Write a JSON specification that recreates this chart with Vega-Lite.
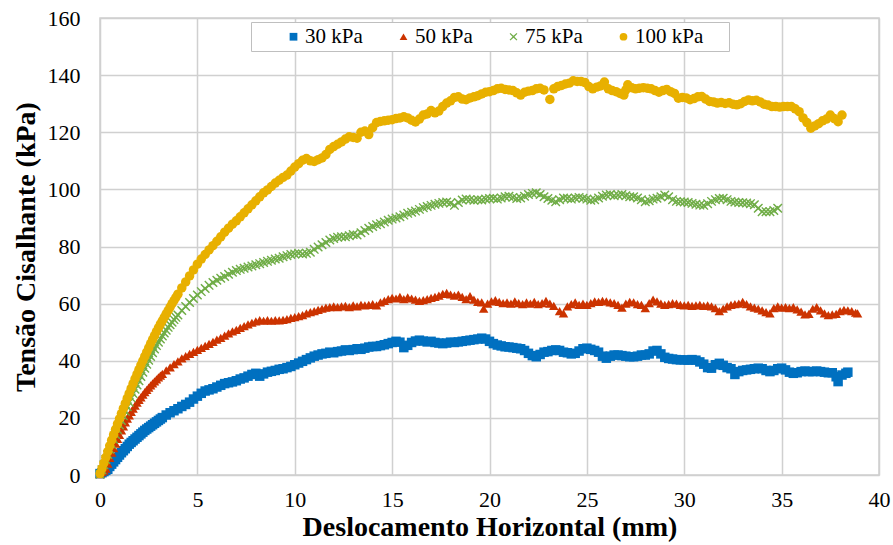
{
"$schema": "https://vega.github.io/schema/vega-lite/v6.json",
"width": 779, "height": 457,
"autosize": {"type": "none"},
"padding": {"left": 100, "top": 18, "right": 14, "bottom": 70},
"background": "white",
"config": {"font": "Liberation Serif, Times New Roman, DejaVu Serif, serif", "view": {"stroke": "#D0D0D0", "strokeWidth": 1.5}},
"data": {"values": [
{"s":"30 kPa","x":0,"y":0.5},{"s":"30 kPa","x":0.1,"y":0.8},{"s":"30 kPa","x":0.2,"y":1.2},{"s":"30 kPa","x":0.3,"y":1.6},{"s":"30 kPa","x":0.4,"y":2.0},{"s":"30 kPa","x":0.5,"y":3.0},{"s":"30 kPa","x":0.6,"y":3.8},{"s":"30 kPa","x":0.7,"y":4.6},{"s":"30 kPa","x":0.8,"y":5.4},{"s":"30 kPa","x":0.9,"y":6.2},{"s":"30 kPa","x":1.0,"y":7.0},{"s":"30 kPa","x":1.1,"y":7.8},{"s":"30 kPa","x":1.2,"y":8.5},{"s":"30 kPa","x":1.3,"y":9.2},{"s":"30 kPa","x":1.4,"y":10.0},{"s":"30 kPa","x":1.5,"y":10.8},{"s":"30 kPa","x":1.6,"y":11.4},{"s":"30 kPa","x":1.7,"y":12.0},{"s":"30 kPa","x":1.8,"y":12.6},{"s":"30 kPa","x":1.9,"y":13.2},{"s":"30 kPa","x":2.0,"y":13.8},{"s":"30 kPa","x":2.1,"y":14.4},{"s":"30 kPa","x":2.2,"y":15.0},{"s":"30 kPa","x":2.3,"y":15.6},{"s":"30 kPa","x":2.4,"y":16.1},{"s":"30 kPa","x":2.5,"y":16.6},{"s":"30 kPa","x":2.6,"y":17.1},{"s":"30 kPa","x":2.7,"y":17.6},{"s":"30 kPa","x":2.8,"y":18.1},{"s":"30 kPa","x":2.9,"y":18.6},{"s":"30 kPa","x":3.0,"y":19.1},{"s":"30 kPa","x":3.1,"y":19.6},{"s":"30 kPa","x":3.2,"y":20.1},{"s":"30 kPa","x":3.4,"y":21.0},{"s":"30 kPa","x":3.6,"y":21.8},{"s":"30 kPa","x":3.8,"y":22.5},{"s":"30 kPa","x":4.0,"y":23.2},{"s":"30 kPa","x":4.2,"y":24.0},{"s":"30 kPa","x":4.4,"y":24.7},{"s":"30 kPa","x":4.6,"y":25.5},{"s":"30 kPa","x":4.8,"y":26.6},{"s":"30 kPa","x":5.0,"y":27.6},{"s":"30 kPa","x":5.2,"y":28.6},{"s":"30 kPa","x":5.4,"y":29.4},{"s":"30 kPa","x":5.6,"y":29.8},{"s":"30 kPa","x":5.8,"y":30.2},{"s":"30 kPa","x":6.0,"y":30.8},{"s":"30 kPa","x":6.2,"y":31.4},{"s":"30 kPa","x":6.4,"y":32.0},{"s":"30 kPa","x":6.6,"y":32.3},{"s":"30 kPa","x":6.8,"y":32.6},{"s":"30 kPa","x":7.0,"y":33.0},{"s":"30 kPa","x":7.2,"y":33.6},{"s":"30 kPa","x":7.4,"y":34.0},{"s":"30 kPa","x":7.6,"y":34.6},{"s":"30 kPa","x":7.8,"y":35.2},{"s":"30 kPa","x":8.0,"y":35.6},{"s":"30 kPa","x":8.2,"y":34.6},{"s":"30 kPa","x":8.4,"y":35.4},{"s":"30 kPa","x":8.6,"y":36.0},{"s":"30 kPa","x":8.8,"y":36.3},{"s":"30 kPa","x":9.0,"y":36.6},{"s":"30 kPa","x":9.2,"y":37.0},{"s":"30 kPa","x":9.4,"y":37.2},{"s":"30 kPa","x":9.6,"y":37.6},{"s":"30 kPa","x":9.8,"y":38.0},{"s":"30 kPa","x":10.0,"y":38.6},{"s":"30 kPa","x":10.2,"y":39.2},{"s":"30 kPa","x":10.4,"y":39.8},{"s":"30 kPa","x":10.6,"y":40.4},{"s":"30 kPa","x":10.8,"y":41.0},{"s":"30 kPa","x":11.0,"y":41.6},{"s":"30 kPa","x":11.2,"y":42.0},{"s":"30 kPa","x":11.4,"y":42.4},{"s":"30 kPa","x":11.6,"y":42.6},{"s":"30 kPa","x":11.8,"y":43.0},{"s":"30 kPa","x":12.0,"y":42.8},{"s":"30 kPa","x":12.2,"y":43.2},{"s":"30 kPa","x":12.4,"y":43.4},{"s":"30 kPa","x":12.6,"y":43.8},{"s":"30 kPa","x":12.8,"y":43.6},{"s":"30 kPa","x":13.0,"y":43.9},{"s":"30 kPa","x":13.2,"y":44.2},{"s":"30 kPa","x":13.4,"y":44.0},{"s":"30 kPa","x":13.6,"y":44.4},{"s":"30 kPa","x":13.8,"y":44.8},{"s":"30 kPa","x":14.0,"y":45.0},{"s":"30 kPa","x":14.2,"y":45.0},{"s":"30 kPa","x":14.4,"y":45.3},{"s":"30 kPa","x":14.6,"y":45.6},{"s":"30 kPa","x":14.8,"y":46.0},{"s":"30 kPa","x":15.0,"y":46.4},{"s":"30 kPa","x":15.2,"y":46.8},{"s":"30 kPa","x":15.4,"y":46.5},{"s":"30 kPa","x":15.6,"y":44.6},{"s":"30 kPa","x":15.8,"y":45.4},{"s":"30 kPa","x":16.0,"y":46.4},{"s":"30 kPa","x":16.2,"y":46.9},{"s":"30 kPa","x":16.4,"y":47.2},{"s":"30 kPa","x":16.6,"y":46.9},{"s":"30 kPa","x":16.8,"y":46.6},{"s":"30 kPa","x":17.0,"y":46.8},{"s":"30 kPa","x":17.2,"y":46.4},{"s":"30 kPa","x":17.4,"y":46.2},{"s":"30 kPa","x":17.6,"y":46.0},{"s":"30 kPa","x":17.8,"y":46.2},{"s":"30 kPa","x":18.0,"y":46.5},{"s":"30 kPa","x":18.2,"y":46.4},{"s":"30 kPa","x":18.4,"y":46.6},{"s":"30 kPa","x":18.6,"y":46.8},{"s":"30 kPa","x":18.8,"y":47.0},{"s":"30 kPa","x":19.0,"y":47.2},{"s":"30 kPa","x":19.2,"y":47.4},{"s":"30 kPa","x":19.4,"y":47.6},{"s":"30 kPa","x":19.6,"y":47.9},{"s":"30 kPa","x":19.8,"y":47.6},{"s":"30 kPa","x":20.0,"y":46.8},{"s":"30 kPa","x":20.2,"y":46.0},{"s":"30 kPa","x":20.4,"y":45.5},{"s":"30 kPa","x":20.6,"y":45.2},{"s":"30 kPa","x":20.8,"y":44.9},{"s":"30 kPa","x":21.0,"y":44.8},{"s":"30 kPa","x":21.2,"y":44.6},{"s":"30 kPa","x":21.4,"y":44.4},{"s":"30 kPa","x":21.6,"y":44.2},{"s":"30 kPa","x":21.8,"y":43.6},{"s":"30 kPa","x":22.0,"y":42.6},{"s":"30 kPa","x":22.2,"y":41.8},{"s":"30 kPa","x":22.4,"y":41.4},{"s":"30 kPa","x":22.6,"y":42.2},{"s":"30 kPa","x":22.8,"y":43.0},{"s":"30 kPa","x":23.0,"y":43.2},{"s":"30 kPa","x":23.2,"y":43.6},{"s":"30 kPa","x":23.4,"y":43.8},{"s":"30 kPa","x":23.6,"y":43.6},{"s":"30 kPa","x":23.8,"y":43.0},{"s":"30 kPa","x":24.0,"y":42.8},{"s":"30 kPa","x":24.2,"y":42.4},{"s":"30 kPa","x":24.4,"y":42.6},{"s":"30 kPa","x":24.6,"y":43.4},{"s":"30 kPa","x":24.8,"y":44.2},{"s":"30 kPa","x":25.0,"y":44.4},{"s":"30 kPa","x":25.2,"y":44.0},{"s":"30 kPa","x":25.4,"y":43.6},{"s":"30 kPa","x":25.6,"y":43.0},{"s":"30 kPa","x":25.8,"y":41.6},{"s":"30 kPa","x":26.0,"y":40.9},{"s":"30 kPa","x":26.2,"y":41.6},{"s":"30 kPa","x":26.4,"y":42.0},{"s":"30 kPa","x":26.6,"y":42.0},{"s":"30 kPa","x":26.8,"y":41.8},{"s":"30 kPa","x":27.0,"y":41.6},{"s":"30 kPa","x":27.2,"y":41.4},{"s":"30 kPa","x":27.4,"y":41.4},{"s":"30 kPa","x":27.6,"y":41.6},{"s":"30 kPa","x":27.8,"y":42.0},{"s":"30 kPa","x":28.0,"y":42.0},{"s":"30 kPa","x":28.2,"y":42.4},{"s":"30 kPa","x":28.4,"y":43.4},{"s":"30 kPa","x":28.6,"y":43.6},{"s":"30 kPa","x":28.8,"y":42.4},{"s":"30 kPa","x":29.0,"y":41.2},{"s":"30 kPa","x":29.2,"y":40.8},{"s":"30 kPa","x":29.4,"y":40.6},{"s":"30 kPa","x":29.6,"y":40.4},{"s":"30 kPa","x":29.8,"y":40.3},{"s":"30 kPa","x":30.0,"y":40.3},{"s":"30 kPa","x":30.2,"y":40.2},{"s":"30 kPa","x":30.4,"y":40.4},{"s":"30 kPa","x":30.6,"y":40.2},{"s":"30 kPa","x":30.8,"y":39.6},{"s":"30 kPa","x":31.0,"y":38.8},{"s":"30 kPa","x":31.2,"y":37.6},{"s":"30 kPa","x":31.4,"y":37.4},{"s":"30 kPa","x":31.6,"y":38.6},{"s":"30 kPa","x":31.8,"y":39.1},{"s":"30 kPa","x":32.0,"y":38.4},{"s":"30 kPa","x":32.2,"y":37.6},{"s":"30 kPa","x":32.4,"y":37.2},{"s":"30 kPa","x":32.6,"y":35.2},{"s":"30 kPa","x":32.8,"y":36.2},{"s":"30 kPa","x":33.0,"y":36.6},{"s":"30 kPa","x":33.2,"y":36.8},{"s":"30 kPa","x":33.4,"y":37.0},{"s":"30 kPa","x":33.6,"y":37.2},{"s":"30 kPa","x":33.8,"y":37.4},{"s":"30 kPa","x":34.0,"y":37.2},{"s":"30 kPa","x":34.2,"y":36.6},{"s":"30 kPa","x":34.4,"y":36.2},{"s":"30 kPa","x":34.6,"y":36.6},{"s":"30 kPa","x":34.8,"y":37.2},{"s":"30 kPa","x":35.0,"y":37.4},{"s":"30 kPa","x":35.2,"y":36.8},{"s":"30 kPa","x":35.4,"y":36.0},{"s":"30 kPa","x":35.6,"y":35.6},{"s":"30 kPa","x":35.8,"y":35.8},{"s":"30 kPa","x":36.0,"y":36.2},{"s":"30 kPa","x":36.2,"y":36.4},{"s":"30 kPa","x":36.4,"y":36.2},{"s":"30 kPa","x":36.6,"y":36.2},{"s":"30 kPa","x":36.8,"y":36.4},{"s":"30 kPa","x":37.0,"y":36.2},{"s":"30 kPa","x":37.2,"y":36.0},{"s":"30 kPa","x":37.4,"y":35.8},{"s":"30 kPa","x":37.6,"y":35.8},{"s":"30 kPa","x":37.8,"y":34.4},{"s":"30 kPa","x":37.9,"y":32.7},{"s":"30 kPa","x":38.1,"y":35.0},{"s":"30 kPa","x":38.3,"y":35.6},{"s":"30 kPa","x":38.4,"y":36.0},
{"s":"50 kPa","x":0,"y":0.3},{"s":"50 kPa","x":0.1,"y":1.0},{"s":"50 kPa","x":0.2,"y":1.5},{"s":"50 kPa","x":0.3,"y":2.2},{"s":"50 kPa","x":0.4,"y":4.0},{"s":"50 kPa","x":0.5,"y":6.0},{"s":"50 kPa","x":0.6,"y":7.8},{"s":"50 kPa","x":0.7,"y":9.4},{"s":"50 kPa","x":0.8,"y":11.0},{"s":"50 kPa","x":0.9,"y":12.6},{"s":"50 kPa","x":1.0,"y":14.0},{"s":"50 kPa","x":1.1,"y":15.6},{"s":"50 kPa","x":1.2,"y":17.0},{"s":"50 kPa","x":1.3,"y":18.4},{"s":"50 kPa","x":1.4,"y":19.7},{"s":"50 kPa","x":1.5,"y":20.9},{"s":"50 kPa","x":1.6,"y":22.1},{"s":"50 kPa","x":1.7,"y":23.2},{"s":"50 kPa","x":1.8,"y":24.3},{"s":"50 kPa","x":1.9,"y":25.3},{"s":"50 kPa","x":2.0,"y":26.3},{"s":"50 kPa","x":2.1,"y":27.2},{"s":"50 kPa","x":2.2,"y":28.1},{"s":"50 kPa","x":2.3,"y":29.0},{"s":"50 kPa","x":2.4,"y":29.8},{"s":"50 kPa","x":2.5,"y":30.6},{"s":"50 kPa","x":2.6,"y":31.4},{"s":"50 kPa","x":2.7,"y":32.1},{"s":"50 kPa","x":2.8,"y":32.8},{"s":"50 kPa","x":2.9,"y":33.5},{"s":"50 kPa","x":3.0,"y":34.2},{"s":"50 kPa","x":3.1,"y":34.8},{"s":"50 kPa","x":3.2,"y":35.4},{"s":"50 kPa","x":3.4,"y":36.6},{"s":"50 kPa","x":3.6,"y":37.7},{"s":"50 kPa","x":3.8,"y":38.8},{"s":"50 kPa","x":4.0,"y":39.8},{"s":"50 kPa","x":4.2,"y":40.8},{"s":"50 kPa","x":4.4,"y":41.6},{"s":"50 kPa","x":4.6,"y":42.4},{"s":"50 kPa","x":4.8,"y":43.1},{"s":"50 kPa","x":5.0,"y":43.8},{"s":"50 kPa","x":5.2,"y":44.5},{"s":"50 kPa","x":5.4,"y":45.2},{"s":"50 kPa","x":5.6,"y":45.9},{"s":"50 kPa","x":5.8,"y":46.6},{"s":"50 kPa","x":6.0,"y":47.4},{"s":"50 kPa","x":6.2,"y":48.0},{"s":"50 kPa","x":6.4,"y":48.8},{"s":"50 kPa","x":6.6,"y":49.6},{"s":"50 kPa","x":6.8,"y":50.3},{"s":"50 kPa","x":7.0,"y":50.8},{"s":"50 kPa","x":7.2,"y":51.5},{"s":"50 kPa","x":7.4,"y":52.1},{"s":"50 kPa","x":7.6,"y":52.7},{"s":"50 kPa","x":7.8,"y":53.3},{"s":"50 kPa","x":8.0,"y":53.8},{"s":"50 kPa","x":8.2,"y":54.2},{"s":"50 kPa","x":8.4,"y":54.0},{"s":"50 kPa","x":8.6,"y":54.2},{"s":"50 kPa","x":8.8,"y":54.0},{"s":"50 kPa","x":9.0,"y":54.2},{"s":"50 kPa","x":9.2,"y":54.1},{"s":"50 kPa","x":9.4,"y":54.3},{"s":"50 kPa","x":9.6,"y":54.6},{"s":"50 kPa","x":9.8,"y":55.0},{"s":"50 kPa","x":10.0,"y":55.3},{"s":"50 kPa","x":10.2,"y":55.6},{"s":"50 kPa","x":10.4,"y":56.0},{"s":"50 kPa","x":10.6,"y":56.6},{"s":"50 kPa","x":10.8,"y":57.0},{"s":"50 kPa","x":11.0,"y":57.4},{"s":"50 kPa","x":11.2,"y":57.8},{"s":"50 kPa","x":11.4,"y":58.2},{"s":"50 kPa","x":11.6,"y":58.6},{"s":"50 kPa","x":11.8,"y":58.8},{"s":"50 kPa","x":12.0,"y":59.0},{"s":"50 kPa","x":12.2,"y":58.8},{"s":"50 kPa","x":12.4,"y":59.0},{"s":"50 kPa","x":12.6,"y":59.2},{"s":"50 kPa","x":12.8,"y":58.8},{"s":"50 kPa","x":13.0,"y":59.4},{"s":"50 kPa","x":13.2,"y":59.0},{"s":"50 kPa","x":13.4,"y":59.6},{"s":"50 kPa","x":13.6,"y":59.4},{"s":"50 kPa","x":13.8,"y":59.6},{"s":"50 kPa","x":14.0,"y":59.8},{"s":"50 kPa","x":14.2,"y":59.4},{"s":"50 kPa","x":14.4,"y":60.4},{"s":"50 kPa","x":14.6,"y":61.0},{"s":"50 kPa","x":14.8,"y":61.6},{"s":"50 kPa","x":15.0,"y":62.0},{"s":"50 kPa","x":15.2,"y":61.8},{"s":"50 kPa","x":15.4,"y":62.4},{"s":"50 kPa","x":15.6,"y":61.6},{"s":"50 kPa","x":15.8,"y":62.2},{"s":"50 kPa","x":16.0,"y":61.8},{"s":"50 kPa","x":16.2,"y":61.4},{"s":"50 kPa","x":16.4,"y":61.0},{"s":"50 kPa","x":16.6,"y":61.2},{"s":"50 kPa","x":16.8,"y":61.6},{"s":"50 kPa","x":17.0,"y":62.0},{"s":"50 kPa","x":17.2,"y":62.4},{"s":"50 kPa","x":17.4,"y":62.8},{"s":"50 kPa","x":17.6,"y":63.4},{"s":"50 kPa","x":17.8,"y":63.8},{"s":"50 kPa","x":18.0,"y":63.2},{"s":"50 kPa","x":18.2,"y":62.8},{"s":"50 kPa","x":18.4,"y":63.2},{"s":"50 kPa","x":18.6,"y":62.4},{"s":"50 kPa","x":18.8,"y":61.6},{"s":"50 kPa","x":19.0,"y":62.6},{"s":"50 kPa","x":19.2,"y":61.4},{"s":"50 kPa","x":19.4,"y":60.6},{"s":"50 kPa","x":19.6,"y":60.4},{"s":"50 kPa","x":19.7,"y":58.2},{"s":"50 kPa","x":19.9,"y":60.0},{"s":"50 kPa","x":20.1,"y":60.8},{"s":"50 kPa","x":20.3,"y":61.2},{"s":"50 kPa","x":20.5,"y":60.6},{"s":"50 kPa","x":20.7,"y":60.2},{"s":"50 kPa","x":20.9,"y":60.4},{"s":"50 kPa","x":21.1,"y":60.0},{"s":"50 kPa","x":21.3,"y":60.8},{"s":"50 kPa","x":21.5,"y":60.2},{"s":"50 kPa","x":21.7,"y":59.8},{"s":"50 kPa","x":21.9,"y":60.4},{"s":"50 kPa","x":22.1,"y":60.0},{"s":"50 kPa","x":22.3,"y":60.6},{"s":"50 kPa","x":22.5,"y":59.8},{"s":"50 kPa","x":22.7,"y":60.2},{"s":"50 kPa","x":22.9,"y":61.0},{"s":"50 kPa","x":23.1,"y":60.0},{"s":"50 kPa","x":23.3,"y":59.2},{"s":"50 kPa","x":23.6,"y":57.4},{"s":"50 kPa","x":23.8,"y":56.6},{"s":"50 kPa","x":24.0,"y":59.0},{"s":"50 kPa","x":24.2,"y":59.8},{"s":"50 kPa","x":24.4,"y":60.4},{"s":"50 kPa","x":24.6,"y":59.6},{"s":"50 kPa","x":24.8,"y":60.0},{"s":"50 kPa","x":25.0,"y":59.6},{"s":"50 kPa","x":25.2,"y":60.2},{"s":"50 kPa","x":25.4,"y":60.8},{"s":"50 kPa","x":25.6,"y":60.6},{"s":"50 kPa","x":25.8,"y":61.0},{"s":"50 kPa","x":26.0,"y":60.8},{"s":"50 kPa","x":26.2,"y":60.4},{"s":"50 kPa","x":26.4,"y":60.2},{"s":"50 kPa","x":26.6,"y":59.6},{"s":"50 kPa","x":26.8,"y":58.6},{"s":"50 kPa","x":27.0,"y":60.0},{"s":"50 kPa","x":27.2,"y":60.6},{"s":"50 kPa","x":27.4,"y":60.4},{"s":"50 kPa","x":27.6,"y":59.8},{"s":"50 kPa","x":27.8,"y":59.6},{"s":"50 kPa","x":28.0,"y":58.4},{"s":"50 kPa","x":28.2,"y":60.2},{"s":"50 kPa","x":28.4,"y":61.4},{"s":"50 kPa","x":28.6,"y":60.8},{"s":"50 kPa","x":28.8,"y":60.0},{"s":"50 kPa","x":29.0,"y":59.6},{"s":"50 kPa","x":29.2,"y":59.8},{"s":"50 kPa","x":29.4,"y":60.2},{"s":"50 kPa","x":29.6,"y":60.0},{"s":"50 kPa","x":29.8,"y":59.6},{"s":"50 kPa","x":30.0,"y":59.4},{"s":"50 kPa","x":30.2,"y":59.6},{"s":"50 kPa","x":30.4,"y":59.2},{"s":"50 kPa","x":30.6,"y":59.4},{"s":"50 kPa","x":30.8,"y":59.6},{"s":"50 kPa","x":31.0,"y":59.2},{"s":"50 kPa","x":31.2,"y":59.4},{"s":"50 kPa","x":31.4,"y":59.0},{"s":"50 kPa","x":31.6,"y":58.4},{"s":"50 kPa","x":31.8,"y":57.4},{"s":"50 kPa","x":32.0,"y":58.2},{"s":"50 kPa","x":32.2,"y":59.0},{"s":"50 kPa","x":32.4,"y":59.6},{"s":"50 kPa","x":32.6,"y":59.8},{"s":"50 kPa","x":32.8,"y":60.0},{"s":"50 kPa","x":33.0,"y":60.6},{"s":"50 kPa","x":33.2,"y":59.8},{"s":"50 kPa","x":33.4,"y":59.0},{"s":"50 kPa","x":33.6,"y":58.6},{"s":"50 kPa","x":33.8,"y":58.2},{"s":"50 kPa","x":34.0,"y":57.6},{"s":"50 kPa","x":34.2,"y":57.0},{"s":"50 kPa","x":34.4,"y":56.6},{"s":"50 kPa","x":34.6,"y":58.4},{"s":"50 kPa","x":34.8,"y":59.0},{"s":"50 kPa","x":35.0,"y":58.6},{"s":"50 kPa","x":35.2,"y":58.8},{"s":"50 kPa","x":35.4,"y":58.4},{"s":"50 kPa","x":35.6,"y":58.8},{"s":"50 kPa","x":35.8,"y":58.0},{"s":"50 kPa","x":36.0,"y":57.2},{"s":"50 kPa","x":36.2,"y":56.2},{"s":"50 kPa","x":36.4,"y":56.4},{"s":"50 kPa","x":36.6,"y":58.2},{"s":"50 kPa","x":36.8,"y":58.8},{"s":"50 kPa","x":37.0,"y":57.6},{"s":"50 kPa","x":37.2,"y":56.6},{"s":"50 kPa","x":37.4,"y":56.0},{"s":"50 kPa","x":37.6,"y":56.2},{"s":"50 kPa","x":37.8,"y":56.4},{"s":"50 kPa","x":38.0,"y":57.4},{"s":"50 kPa","x":38.2,"y":57.8},{"s":"50 kPa","x":38.4,"y":57.6},{"s":"50 kPa","x":38.6,"y":57.4},{"s":"50 kPa","x":38.8,"y":56.8},{"s":"50 kPa","x":38.9,"y":56.6},
{"s":"75 kPa","x":0,"y":0.3},{"s":"75 kPa","x":0.1,"y":1.8},{"s":"75 kPa","x":0.2,"y":3.6},{"s":"75 kPa","x":0.3,"y":5.4},{"s":"75 kPa","x":0.4,"y":7.2},{"s":"75 kPa","x":0.5,"y":9.0},{"s":"75 kPa","x":0.6,"y":10.8},{"s":"75 kPa","x":0.7,"y":12.5},{"s":"75 kPa","x":0.8,"y":14.2},{"s":"75 kPa","x":0.9,"y":15.9},{"s":"75 kPa","x":1.0,"y":17.5},{"s":"75 kPa","x":1.1,"y":19.1},{"s":"75 kPa","x":1.2,"y":20.7},{"s":"75 kPa","x":1.3,"y":22.3},{"s":"75 kPa","x":1.4,"y":23.9},{"s":"75 kPa","x":1.5,"y":25.5},{"s":"75 kPa","x":1.6,"y":27.0},{"s":"75 kPa","x":1.7,"y":28.5},{"s":"75 kPa","x":1.8,"y":30.0},{"s":"75 kPa","x":1.9,"y":31.5},{"s":"75 kPa","x":2.0,"y":33.0},{"s":"75 kPa","x":2.1,"y":34.5},{"s":"75 kPa","x":2.2,"y":36.0},{"s":"75 kPa","x":2.3,"y":37.4},{"s":"75 kPa","x":2.4,"y":38.8},{"s":"75 kPa","x":2.5,"y":40.2},{"s":"75 kPa","x":2.6,"y":41.5},{"s":"75 kPa","x":2.7,"y":42.8},{"s":"75 kPa","x":2.8,"y":44.1},{"s":"75 kPa","x":2.9,"y":45.3},{"s":"75 kPa","x":3.0,"y":46.5},{"s":"75 kPa","x":3.1,"y":47.6},{"s":"75 kPa","x":3.2,"y":48.7},{"s":"75 kPa","x":3.3,"y":49.7},{"s":"75 kPa","x":3.4,"y":50.7},{"s":"75 kPa","x":3.5,"y":51.7},{"s":"75 kPa","x":3.6,"y":52.6},{"s":"75 kPa","x":3.7,"y":53.5},{"s":"75 kPa","x":3.8,"y":54.4},{"s":"75 kPa","x":3.9,"y":55.2},{"s":"75 kPa","x":4.0,"y":56.0},{"s":"75 kPa","x":4.2,"y":57.6},{"s":"75 kPa","x":4.4,"y":59.0},{"s":"75 kPa","x":4.6,"y":60.4},{"s":"75 kPa","x":4.8,"y":61.8},{"s":"75 kPa","x":5.0,"y":63.0},{"s":"75 kPa","x":5.2,"y":64.2},{"s":"75 kPa","x":5.4,"y":65.3},{"s":"75 kPa","x":5.6,"y":66.4},{"s":"75 kPa","x":5.8,"y":67.4},{"s":"75 kPa","x":6.0,"y":68.2},{"s":"75 kPa","x":6.2,"y":68.9},{"s":"75 kPa","x":6.4,"y":69.5},{"s":"75 kPa","x":6.6,"y":70.3},{"s":"75 kPa","x":6.8,"y":71.0},{"s":"75 kPa","x":7.0,"y":71.6},{"s":"75 kPa","x":7.2,"y":72.0},{"s":"75 kPa","x":7.4,"y":72.4},{"s":"75 kPa","x":7.6,"y":72.8},{"s":"75 kPa","x":7.8,"y":73.2},{"s":"75 kPa","x":8.0,"y":73.6},{"s":"75 kPa","x":8.2,"y":74.0},{"s":"75 kPa","x":8.4,"y":74.4},{"s":"75 kPa","x":8.6,"y":74.8},{"s":"75 kPa","x":8.8,"y":75.2},{"s":"75 kPa","x":9.0,"y":75.6},{"s":"75 kPa","x":9.2,"y":75.9},{"s":"75 kPa","x":9.4,"y":76.4},{"s":"75 kPa","x":9.6,"y":76.8},{"s":"75 kPa","x":9.8,"y":77.2},{"s":"75 kPa","x":10.0,"y":77.4},{"s":"75 kPa","x":10.2,"y":77.6},{"s":"75 kPa","x":10.4,"y":77.4},{"s":"75 kPa","x":10.6,"y":77.6},{"s":"75 kPa","x":10.8,"y":78.0},{"s":"75 kPa","x":11.0,"y":79.0},{"s":"75 kPa","x":11.2,"y":79.8},{"s":"75 kPa","x":11.4,"y":80.6},{"s":"75 kPa","x":11.6,"y":81.4},{"s":"75 kPa","x":11.8,"y":82.3},{"s":"75 kPa","x":12.0,"y":82.8},{"s":"75 kPa","x":12.2,"y":83.2},{"s":"75 kPa","x":12.4,"y":83.4},{"s":"75 kPa","x":12.6,"y":83.4},{"s":"75 kPa","x":12.8,"y":83.8},{"s":"75 kPa","x":13.0,"y":84.2},{"s":"75 kPa","x":13.2,"y":84.0},{"s":"75 kPa","x":13.4,"y":84.8},{"s":"75 kPa","x":13.6,"y":85.6},{"s":"75 kPa","x":13.8,"y":86.4},{"s":"75 kPa","x":14.0,"y":87.0},{"s":"75 kPa","x":14.2,"y":87.6},{"s":"75 kPa","x":14.4,"y":88.0},{"s":"75 kPa","x":14.6,"y":88.6},{"s":"75 kPa","x":14.8,"y":89.2},{"s":"75 kPa","x":15.0,"y":89.6},{"s":"75 kPa","x":15.2,"y":90.0},{"s":"75 kPa","x":15.4,"y":90.4},{"s":"75 kPa","x":15.6,"y":91.0},{"s":"75 kPa","x":15.8,"y":91.6},{"s":"75 kPa","x":16.0,"y":92.0},{"s":"75 kPa","x":16.2,"y":92.4},{"s":"75 kPa","x":16.4,"y":93.0},{"s":"75 kPa","x":16.6,"y":93.6},{"s":"75 kPa","x":16.8,"y":94.0},{"s":"75 kPa","x":17.0,"y":94.4},{"s":"75 kPa","x":17.2,"y":94.8},{"s":"75 kPa","x":17.4,"y":95.1},{"s":"75 kPa","x":17.6,"y":95.4},{"s":"75 kPa","x":17.8,"y":95.6},{"s":"75 kPa","x":18.0,"y":95.2},{"s":"75 kPa","x":18.2,"y":94.4},{"s":"75 kPa","x":18.4,"y":95.4},{"s":"75 kPa","x":18.6,"y":96.3},{"s":"75 kPa","x":18.8,"y":96.6},{"s":"75 kPa","x":19.0,"y":96.4},{"s":"75 kPa","x":19.2,"y":96.2},{"s":"75 kPa","x":19.4,"y":96.4},{"s":"75 kPa","x":19.6,"y":96.3},{"s":"75 kPa","x":19.8,"y":96.6},{"s":"75 kPa","x":20.0,"y":96.8},{"s":"75 kPa","x":20.2,"y":96.9},{"s":"75 kPa","x":20.4,"y":96.6},{"s":"75 kPa","x":20.6,"y":97.0},{"s":"75 kPa","x":20.8,"y":97.4},{"s":"75 kPa","x":21.0,"y":97.6},{"s":"75 kPa","x":21.2,"y":97.2},{"s":"75 kPa","x":21.4,"y":96.8},{"s":"75 kPa","x":21.6,"y":97.0},{"s":"75 kPa","x":21.8,"y":97.6},{"s":"75 kPa","x":22.0,"y":98.2},{"s":"75 kPa","x":22.2,"y":98.6},{"s":"75 kPa","x":22.4,"y":98.8},{"s":"75 kPa","x":22.6,"y":98.2},{"s":"75 kPa","x":22.8,"y":97.4},{"s":"75 kPa","x":23.0,"y":96.8},{"s":"75 kPa","x":23.2,"y":96.2},{"s":"75 kPa","x":23.4,"y":95.7},{"s":"75 kPa","x":23.6,"y":96.4},{"s":"75 kPa","x":23.8,"y":97.0},{"s":"75 kPa","x":24.0,"y":96.9},{"s":"75 kPa","x":24.2,"y":96.6},{"s":"75 kPa","x":24.4,"y":97.0},{"s":"75 kPa","x":24.6,"y":97.2},{"s":"75 kPa","x":24.8,"y":96.9},{"s":"75 kPa","x":25.0,"y":96.6},{"s":"75 kPa","x":25.2,"y":96.2},{"s":"75 kPa","x":25.4,"y":96.4},{"s":"75 kPa","x":25.6,"y":97.0},{"s":"75 kPa","x":25.8,"y":97.6},{"s":"75 kPa","x":26.0,"y":98.0},{"s":"75 kPa","x":26.2,"y":98.2},{"s":"75 kPa","x":26.4,"y":97.8},{"s":"75 kPa","x":26.6,"y":98.0},{"s":"75 kPa","x":26.8,"y":98.2},{"s":"75 kPa","x":27.0,"y":97.8},{"s":"75 kPa","x":27.2,"y":97.4},{"s":"75 kPa","x":27.4,"y":97.4},{"s":"75 kPa","x":27.6,"y":97.0},{"s":"75 kPa","x":27.8,"y":96.4},{"s":"75 kPa","x":28.0,"y":95.7},{"s":"75 kPa","x":28.2,"y":96.0},{"s":"75 kPa","x":28.4,"y":96.6},{"s":"75 kPa","x":28.6,"y":96.9},{"s":"75 kPa","x":28.8,"y":97.4},{"s":"75 kPa","x":29.0,"y":98.0},{"s":"75 kPa","x":29.2,"y":97.4},{"s":"75 kPa","x":29.4,"y":96.4},{"s":"75 kPa","x":29.6,"y":95.8},{"s":"75 kPa","x":29.8,"y":95.7},{"s":"75 kPa","x":30.0,"y":95.6},{"s":"75 kPa","x":30.2,"y":95.4},{"s":"75 kPa","x":30.4,"y":95.1},{"s":"75 kPa","x":30.6,"y":94.8},{"s":"75 kPa","x":30.8,"y":94.5},{"s":"75 kPa","x":31.0,"y":94.4},{"s":"75 kPa","x":31.2,"y":95.0},{"s":"75 kPa","x":31.4,"y":95.8},{"s":"75 kPa","x":31.6,"y":96.4},{"s":"75 kPa","x":31.8,"y":96.8},{"s":"75 kPa","x":32.0,"y":96.9},{"s":"75 kPa","x":32.2,"y":96.4},{"s":"75 kPa","x":32.4,"y":95.8},{"s":"75 kPa","x":32.6,"y":95.6},{"s":"75 kPa","x":32.8,"y":95.4},{"s":"75 kPa","x":33.0,"y":95.3},{"s":"75 kPa","x":33.2,"y":95.2},{"s":"75 kPa","x":33.4,"y":95.0},{"s":"75 kPa","x":33.6,"y":94.6},{"s":"75 kPa","x":33.8,"y":93.4},{"s":"75 kPa","x":34.0,"y":92.2},{"s":"75 kPa","x":34.2,"y":92.2},{"s":"75 kPa","x":34.4,"y":92.2},{"s":"75 kPa","x":34.6,"y":92.6},{"s":"75 kPa","x":34.8,"y":93.4},
{"s":"100 kPa","x":0,"y":0.5},{"s":"100 kPa","x":0.1,"y":2.2},{"s":"100 kPa","x":0.2,"y":4.2},{"s":"100 kPa","x":0.3,"y":6.2},{"s":"100 kPa","x":0.4,"y":8.2},{"s":"100 kPa","x":0.5,"y":10.2},{"s":"100 kPa","x":0.6,"y":12.2},{"s":"100 kPa","x":0.7,"y":14.1},{"s":"100 kPa","x":0.8,"y":16.0},{"s":"100 kPa","x":0.9,"y":17.9},{"s":"100 kPa","x":1.0,"y":19.7},{"s":"100 kPa","x":1.1,"y":21.5},{"s":"100 kPa","x":1.2,"y":23.3},{"s":"100 kPa","x":1.3,"y":25.1},{"s":"100 kPa","x":1.4,"y":26.9},{"s":"100 kPa","x":1.5,"y":28.6},{"s":"100 kPa","x":1.6,"y":30.3},{"s":"100 kPa","x":1.7,"y":32.0},{"s":"100 kPa","x":1.8,"y":33.7},{"s":"100 kPa","x":1.9,"y":35.3},{"s":"100 kPa","x":2.0,"y":36.9},{"s":"100 kPa","x":2.1,"y":38.5},{"s":"100 kPa","x":2.2,"y":40.0},{"s":"100 kPa","x":2.3,"y":41.5},{"s":"100 kPa","x":2.4,"y":43.0},{"s":"100 kPa","x":2.5,"y":44.5},{"s":"100 kPa","x":2.6,"y":46.0},{"s":"100 kPa","x":2.7,"y":47.4},{"s":"100 kPa","x":2.8,"y":48.8},{"s":"100 kPa","x":2.9,"y":50.2},{"s":"100 kPa","x":3.0,"y":51.5},{"s":"100 kPa","x":3.1,"y":52.8},{"s":"100 kPa","x":3.2,"y":54.0},{"s":"100 kPa","x":3.3,"y":55.2},{"s":"100 kPa","x":3.4,"y":56.4},{"s":"100 kPa","x":3.5,"y":57.6},{"s":"100 kPa","x":3.6,"y":58.8},{"s":"100 kPa","x":3.7,"y":60.0},{"s":"100 kPa","x":3.8,"y":61.1},{"s":"100 kPa","x":3.9,"y":62.2},{"s":"100 kPa","x":4.0,"y":63.3},{"s":"100 kPa","x":4.2,"y":65.5},{"s":"100 kPa","x":4.4,"y":67.6},{"s":"100 kPa","x":4.6,"y":69.7},{"s":"100 kPa","x":4.8,"y":71.8},{"s":"100 kPa","x":5.0,"y":73.8},{"s":"100 kPa","x":5.2,"y":75.6},{"s":"100 kPa","x":5.4,"y":77.2},{"s":"100 kPa","x":5.6,"y":78.8},{"s":"100 kPa","x":5.8,"y":80.3},{"s":"100 kPa","x":6.0,"y":81.8},{"s":"100 kPa","x":6.2,"y":83.4},{"s":"100 kPa","x":6.4,"y":85.0},{"s":"100 kPa","x":6.6,"y":86.4},{"s":"100 kPa","x":6.8,"y":87.8},{"s":"100 kPa","x":7.0,"y":89.0},{"s":"100 kPa","x":7.2,"y":90.4},{"s":"100 kPa","x":7.4,"y":91.8},{"s":"100 kPa","x":7.6,"y":93.2},{"s":"100 kPa","x":7.8,"y":94.6},{"s":"100 kPa","x":8.0,"y":96.0},{"s":"100 kPa","x":8.2,"y":97.4},{"s":"100 kPa","x":8.4,"y":98.8},{"s":"100 kPa","x":8.6,"y":99.8},{"s":"100 kPa","x":8.8,"y":101.0},{"s":"100 kPa","x":9.0,"y":102.2},{"s":"100 kPa","x":9.2,"y":103.2},{"s":"100 kPa","x":9.4,"y":104.2},{"s":"100 kPa","x":9.6,"y":105.0},{"s":"100 kPa","x":9.8,"y":106.4},{"s":"100 kPa","x":10.0,"y":107.8},{"s":"100 kPa","x":10.2,"y":109.0},{"s":"100 kPa","x":10.4,"y":110.2},{"s":"100 kPa","x":10.6,"y":110.8},{"s":"100 kPa","x":10.8,"y":110.0},{"s":"100 kPa","x":11.0,"y":109.8},{"s":"100 kPa","x":11.2,"y":110.4},{"s":"100 kPa","x":11.4,"y":111.0},{"s":"100 kPa","x":11.6,"y":112.2},{"s":"100 kPa","x":11.8,"y":114.0},{"s":"100 kPa","x":12.0,"y":115.0},{"s":"100 kPa","x":12.2,"y":115.8},{"s":"100 kPa","x":12.4,"y":116.6},{"s":"100 kPa","x":12.6,"y":117.6},{"s":"100 kPa","x":12.8,"y":118.4},{"s":"100 kPa","x":13.0,"y":118.2},{"s":"100 kPa","x":13.2,"y":117.9},{"s":"100 kPa","x":13.4,"y":120.0},{"s":"100 kPa","x":13.6,"y":120.4},{"s":"100 kPa","x":13.8,"y":119.2},{"s":"100 kPa","x":14.0,"y":121.6},{"s":"100 kPa","x":14.2,"y":123.4},{"s":"100 kPa","x":14.4,"y":123.8},{"s":"100 kPa","x":14.6,"y":124.0},{"s":"100 kPa","x":14.8,"y":124.2},{"s":"100 kPa","x":15.0,"y":124.4},{"s":"100 kPa","x":15.2,"y":124.8},{"s":"100 kPa","x":15.4,"y":125.0},{"s":"100 kPa","x":15.6,"y":125.4},{"s":"100 kPa","x":15.8,"y":125.0},{"s":"100 kPa","x":16.0,"y":124.2},{"s":"100 kPa","x":16.2,"y":123.6},{"s":"100 kPa","x":16.4,"y":124.6},{"s":"100 kPa","x":16.6,"y":126.0},{"s":"100 kPa","x":16.8,"y":126.4},{"s":"100 kPa","x":17.0,"y":127.6},{"s":"100 kPa","x":17.2,"y":126.8},{"s":"100 kPa","x":17.4,"y":127.4},{"s":"100 kPa","x":17.6,"y":129.0},{"s":"100 kPa","x":17.8,"y":130.2},{"s":"100 kPa","x":18.0,"y":131.0},{"s":"100 kPa","x":18.2,"y":132.2},{"s":"100 kPa","x":18.4,"y":132.4},{"s":"100 kPa","x":18.6,"y":131.6},{"s":"100 kPa","x":18.8,"y":131.4},{"s":"100 kPa","x":19.0,"y":132.0},{"s":"100 kPa","x":19.2,"y":132.4},{"s":"100 kPa","x":19.4,"y":132.8},{"s":"100 kPa","x":19.6,"y":133.4},{"s":"100 kPa","x":19.8,"y":134.0},{"s":"100 kPa","x":20.0,"y":134.2},{"s":"100 kPa","x":20.2,"y":134.6},{"s":"100 kPa","x":20.4,"y":135.2},{"s":"100 kPa","x":20.6,"y":135.4},{"s":"100 kPa","x":20.8,"y":135.0},{"s":"100 kPa","x":21.0,"y":134.8},{"s":"100 kPa","x":21.2,"y":134.6},{"s":"100 kPa","x":21.4,"y":133.8},{"s":"100 kPa","x":21.6,"y":133.0},{"s":"100 kPa","x":21.8,"y":134.0},{"s":"100 kPa","x":22.0,"y":134.4},{"s":"100 kPa","x":22.2,"y":134.6},{"s":"100 kPa","x":22.4,"y":135.2},{"s":"100 kPa","x":22.6,"y":135.4},{"s":"100 kPa","x":22.8,"y":134.8},{"s":"100 kPa","x":23.1,"y":131.5},{"s":"100 kPa","x":23.3,"y":135.2},{"s":"100 kPa","x":23.5,"y":136.0},{"s":"100 kPa","x":23.7,"y":136.4},{"s":"100 kPa","x":23.9,"y":136.9},{"s":"100 kPa","x":24.1,"y":137.2},{"s":"100 kPa","x":24.3,"y":138.0},{"s":"100 kPa","x":24.5,"y":137.8},{"s":"100 kPa","x":24.7,"y":137.8},{"s":"100 kPa","x":24.9,"y":137.4},{"s":"100 kPa","x":25.1,"y":136.0},{"s":"100 kPa","x":25.3,"y":135.2},{"s":"100 kPa","x":25.5,"y":135.8},{"s":"100 kPa","x":25.7,"y":136.2},{"s":"100 kPa","x":25.9,"y":137.6},{"s":"100 kPa","x":26.1,"y":135.2},{"s":"100 kPa","x":26.3,"y":134.6},{"s":"100 kPa","x":26.5,"y":134.2},{"s":"100 kPa","x":26.7,"y":133.6},{"s":"100 kPa","x":26.9,"y":133.0},{"s":"100 kPa","x":27.0,"y":134.8},{"s":"100 kPa","x":27.1,"y":136.6},{"s":"100 kPa","x":27.3,"y":135.6},{"s":"100 kPa","x":27.5,"y":135.2},{"s":"100 kPa","x":27.7,"y":135.4},{"s":"100 kPa","x":27.9,"y":135.6},{"s":"100 kPa","x":28.1,"y":135.4},{"s":"100 kPa","x":28.3,"y":135.2},{"s":"100 kPa","x":28.5,"y":134.6},{"s":"100 kPa","x":28.7,"y":134.0},{"s":"100 kPa","x":28.9,"y":134.6},{"s":"100 kPa","x":29.1,"y":135.0},{"s":"100 kPa","x":29.3,"y":134.2},{"s":"100 kPa","x":29.5,"y":133.6},{"s":"100 kPa","x":29.7,"y":131.9},{"s":"100 kPa","x":29.9,"y":132.2},{"s":"100 kPa","x":30.1,"y":132.0},{"s":"100 kPa","x":30.3,"y":131.4},{"s":"100 kPa","x":30.5,"y":131.8},{"s":"100 kPa","x":30.7,"y":132.4},{"s":"100 kPa","x":30.9,"y":132.5},{"s":"100 kPa","x":31.1,"y":131.6},{"s":"100 kPa","x":31.3,"y":130.8},{"s":"100 kPa","x":31.5,"y":130.6},{"s":"100 kPa","x":31.7,"y":130.2},{"s":"100 kPa","x":31.9,"y":130.4},{"s":"100 kPa","x":32.1,"y":130.1},{"s":"100 kPa","x":32.3,"y":130.3},{"s":"100 kPa","x":32.5,"y":129.8},{"s":"100 kPa","x":32.7,"y":129.6},{"s":"100 kPa","x":32.9,"y":130.0},{"s":"100 kPa","x":33.1,"y":130.8},{"s":"100 kPa","x":33.3,"y":131.3},{"s":"100 kPa","x":33.5,"y":131.0},{"s":"100 kPa","x":33.7,"y":131.2},{"s":"100 kPa","x":33.9,"y":130.6},{"s":"100 kPa","x":34.1,"y":129.8},{"s":"100 kPa","x":34.3,"y":129.5},{"s":"100 kPa","x":34.5,"y":129.0},{"s":"100 kPa","x":34.7,"y":129.0},{"s":"100 kPa","x":34.9,"y":128.8},{"s":"100 kPa","x":35.1,"y":129.0},{"s":"100 kPa","x":35.3,"y":129.0},{"s":"100 kPa","x":35.5,"y":129.0},{"s":"100 kPa","x":35.7,"y":128.2},{"s":"100 kPa","x":35.9,"y":127.2},{"s":"100 kPa","x":36.1,"y":125.0},{"s":"100 kPa","x":36.3,"y":123.4},{"s":"100 kPa","x":36.5,"y":121.4},{"s":"100 kPa","x":36.7,"y":122.2},{"s":"100 kPa","x":36.9,"y":123.0},{"s":"100 kPa","x":37.1,"y":124.0},{"s":"100 kPa","x":37.3,"y":124.6},{"s":"100 kPa","x":37.5,"y":126.0},{"s":"100 kPa","x":37.7,"y":124.8},{"s":"100 kPa","x":37.9,"y":123.7},{"s":"100 kPa","x":38.1,"y":126.0}
]},
"mark": {"type": "point", "filled": true, "opacity": 1, "size": 90},
"encoding": {
"x": {"field": "x", "type": "quantitative",
 "scale": {"domain": [0, 40], "nice": false},
 "axis": {"values": [0,5,10,15,20,25,30,35,40], "grid": true, "gridColor": "#D0D0D0", "gridWidth": 1.5, "domain": false, "ticks": false, "labelFlush": false,
  "labelFontSize": 22, "labelColor": "#000000", "labelPadding": 14,
  "title": "Deslocamento Horizontal (mm)", "titleFontSize": 28, "titleFontWeight": "bold", "titleColor": "#000000", "titlePadding": 3}},
"y": {"field": "y", "type": "quantitative",
 "scale": {"domain": [0, 160], "nice": false},
 "axis": {"values": [0,20,40,60,80,100,120,140,160], "grid": true, "gridColor": "#D0D0D0", "gridWidth": 1.5, "domain": false, "ticks": false, "labelFlush": false,
  "labelFontSize": 22, "labelColor": "#000000", "labelPadding": 20,
  "title": "Tensão Cisalhante (kPa)", "titleFontSize": 28, "titleFontWeight": "bold", "titleColor": "#000000", "titlePadding": 7}},
"color": {"field": "s", "type": "nominal",
 "scale": {"domain": ["30 kPa", "50 kPa", "75 kPa", "100 kPa"], "range": ["#0070C0", "#CC3300", "#70AD47", "#E8B000"]},
 "legend": {"orient": "none", "legendX": 151, "legendY": 4, "direction": "horizontal", "columns": 4,
  "title": "\u00a0", "titleOrient": "right", "titlePadding": 22, "titleFontSize": 10,
  "strokeColor": "#BFBFBF", "fillColor": "white", "padding": 4,
  "labelFontSize": 21, "labelColor": "#000000", "symbolSize": 60, "symbolOpacity": 1,
  "symbolOffset": 28, "columnPadding": 2, "labelOffset": 1}},
"shape": {"field": "s", "type": "nominal",
 "scale": {"domain": ["30 kPa", "50 kPa", "75 kPa", "100 kPa"], "range": ["square", "triangle-up", "M-0.8,-1L0,-0.25L0.8,-1L1,-0.8L0.25,0L1,0.8L0.8,1L0,0.25L-0.8,1L-1,0.8L-0.25,0L-1,-0.8Z", "circle"]}}
}
}
